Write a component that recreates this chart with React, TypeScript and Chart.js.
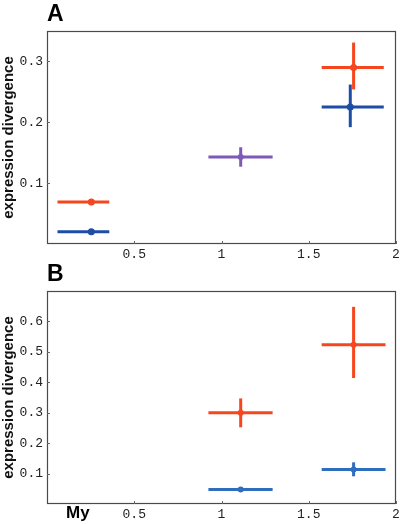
import React, { useEffect, useRef } from "react";
import { Chart, registerables } from "chart.js";

Chart.register(...registerables);

// ---------- data ----------
const xTicks = [0.5, 1, 1.5, 2];
const yTicksA = [0.1, 0.2, 0.3];
const yTicksB = [0.1, 0.2, 0.3, 0.4, 0.5, 0.6];

// Panel A
const aOrangeX = [0.254, 1.757];
const aOrangeY = [0.069, 0.29];
const aOrangeXLow = [0.06, 1.574];
const aOrangeXHigh = [0.357, 1.93];
const aOrangeYLow = [0.069, 0.254];
const aOrangeYHigh = [0.069, 0.331];

const aBlueX = [0.254, 1.738];
const aBlueY = [0.02, 0.225];
const aBlueXLow = [0.06, 1.574];
const aBlueXHigh = [0.357, 1.93];
const aBlueYLow = [0.02, 0.192];
const aBlueYHigh = [0.02, 0.262];

const aPurpleX = [1.11];
const aPurpleY = [0.143];
const aPurpleXLow = [0.925];
const aPurpleXHigh = [1.293];
const aPurpleYLow = [0.127];
const aPurpleYHigh = [0.159];

// Panel B
const bOrangeX = [1.11, 1.757];
const bOrangeY = [0.3, 0.523];
const bOrangeXLow = [0.925, 1.574];
const bOrangeXHigh = [1.293, 1.94];
const bOrangeYLow = [0.252, 0.414];
const bOrangeYHigh = [0.347, 0.648];

const bBlueX = [1.11, 1.757];
const bBlueY = [0.0475, 0.113];
const bBlueXLow = [0.925, 1.574];
const bBlueXHigh = [1.293, 1.94];
const bBlueYLow = [0.042, 0.091];
const bBlueYHigh = [0.053, 0.137];

const ORANGE = "#f5461f";
const BLUE_A = "#1d4da6";
const PURPLE = "#7d5bb4";
const BLUE_B = "#2f6ebf";

type Pt = { x: number; y: number; xl: number; xh: number; yl: number; yh: number };

function pts(x: number[], y: number[], xl: number[], xh: number[], yl: number[], yh: number[]): Pt[] {
  return x.map((v, i) => ({ x: v, y: y[i], xl: xl[i], xh: xh[i], yl: yl[i], yh: yh[i] }));
}

const errorBarPlugin = {
  id: "errorBars",
  beforeDatasetsDraw(chart: any) {
    const ctx = chart.ctx;
    const xs = chart.scales.x;
    const ys = chart.scales.y;
    ctx.save();
    ctx.lineWidth = 3;
    ctx.lineCap = "butt";
    chart.data.datasets.forEach((ds: any) => {
      ctx.strokeStyle = ds.borderColor;
      ds.data.forEach((p: Pt) => {
        const cx = xs.getPixelForValue(p.x);
        const cy = ys.getPixelForValue(p.y);
        ctx.beginPath();
        ctx.moveTo(xs.getPixelForValue(p.xl), cy);
        ctx.lineTo(xs.getPixelForValue(p.xh), cy);
        ctx.stroke();
        if (p.yh !== p.yl) {
          ctx.beginPath();
          ctx.moveTo(cx, ys.getPixelForValue(p.yl));
          ctx.lineTo(cx, ys.getPixelForValue(p.yh));
          ctx.stroke();
        }
      });
    });
    ctx.restore();
  },
};

const framePlugin = {
  id: "frame",
  afterDraw(chart: any, _args: any, opts: any) {
    const ctx = chart.ctx;
    const a = chart.chartArea;
    ctx.save();
    ctx.strokeStyle = "#4a4a4a";
    ctx.lineWidth = 1.2;
    ctx.strokeRect(a.left + 0.5, a.top + 0.5, a.right - a.left - 1, a.bottom - a.top - 1);
    // inward tick marks
    const xs = chart.scales.x;
    const ys = chart.scales.y;
    ctx.lineWidth = 1;
    ctx.strokeStyle = "#666";
    xs.ticks.forEach((t: any) => {
      const px = Math.round(xs.getPixelForValue(t.value)) + 0.5;
      ctx.beginPath();
      ctx.moveTo(px, a.bottom);
      ctx.lineTo(px, a.bottom - 3);
      ctx.stroke();
    });
    ys.ticks.forEach((t: any) => {
      const py = Math.round(ys.getPixelForValue(t.value)) + 0.5;
      ctx.beginPath();
      ctx.moveTo(a.left, py);
      ctx.lineTo(a.left + 3, py);
      ctx.stroke();
    });
    // panel letter
    ctx.fillStyle = "#000";
    ctx.font = "bold 23px 'Liberation Sans', Arial, sans-serif";
    ctx.textBaseline = "alphabetic";
    ctx.textAlign = "left";
    ctx.fillText(opts.letter, a.left, 21);
    if (opts.unit) {
      ctx.font = "bold 17px 'Liberation Sans', Arial, sans-serif";
      ctx.fillText(opts.unit, a.left + 19, a.bottom + 14);
    }
    ctx.restore();
  },
};

const tickFont = { family: "'Liberation Mono', 'Courier New', monospace", size: 13 };

function makeConfig(datasets: any[], yMax: number, yTicks: number[], letter: string, unit: string, xScaleHeight: number) {
  return {
    type: "scatter",
    data: { datasets },
    plugins: [errorBarPlugin, framePlugin],
    options: {
      responsive: false,
      animation: false,
      layout: { padding: { top: 31, right: 4, left: 0, bottom: 0 } },
      plugins: {
        legend: { display: false },
        tooltip: { enabled: false },
        frame: { letter, unit },
      },
      scales: {
        x: {
          type: "linear",
          min: 0,
          max: 2,
          grid: { display: false, drawTicks: false },
          border: { display: false },
          afterBuildTicks: (s: any) => {
            s.ticks = xTicks.map((v) => ({ value: v }));
          },
          afterFit: (s: any) => {
            s.height = xScaleHeight;
            s.paddingRight = 0;
            s.paddingLeft = 0;
          },
          ticks: {
            maxRotation: 0,
            autoSkip: false,
            padding: 3,
            color: "#222",
            font: tickFont,
            callback: (v: any) => String(v),
          },
        },
        y: {
          type: "linear",
          min: 0,
          max: yMax,
          grid: { display: false, drawTicks: false },
          border: { display: false },
          afterBuildTicks: (s: any) => {
            s.ticks = yTicks.map((v) => ({ value: v }));
          },
          afterFit: (s: any) => {
            s.width = 47;
            s.paddingTop = 0;
            s.paddingBottom = 0;
          },
          title: {
            display: true,
            text: "expression divergence",
            color: "#111",
            padding: { top: 0, bottom: 0 },
            font: { family: "'Liberation Sans', Arial, sans-serif", size: 15, weight: "bold" },
          },
          ticks: {
            padding: 4,
            color: "#222",
            font: tickFont,
            callback: (v: any) => String(v),
          },
        },
      },
    },
  };
}

function ds(label: string, color: string, data: Pt[], radius: number) {
  return {
    label,
    data,
    borderColor: color,
    backgroundColor: color,
    pointRadius: radius,
    pointBorderWidth: 0,
    showLine: false,
  };
}

export default function App() {
  const refA = useRef<HTMLCanvasElement>(null);
  const refB = useRef<HTMLCanvasElement>(null);

  useEffect(() => {
    const chartA = new Chart(
      refA.current as HTMLCanvasElement,
      makeConfig(
        [
          ds("orange", ORANGE, pts(aOrangeX, aOrangeY, aOrangeXLow, aOrangeXHigh, aOrangeYLow, aOrangeYHigh), 3.5),
          ds("blue", BLUE_A, pts(aBlueX, aBlueY, aBlueXLow, aBlueXHigh, aBlueYLow, aBlueYHigh), 3.5),
          ds("purple", PURPLE, pts(aPurpleX, aPurpleY, aPurpleXLow, aPurpleXHigh, aPurpleYLow, aPurpleYHigh), 3),
        ],
        0.35,
        yTicksA,
        "A",
        "",
        16
      ) as any
    );
    const chartB = new Chart(
      refB.current as HTMLCanvasElement,
      makeConfig(
        [
          ds("orange", ORANGE, pts(bOrangeX, bOrangeY, bOrangeXLow, bOrangeXHigh, bOrangeYLow, bOrangeYHigh), 3),
          ds("blue", BLUE_B, pts(bBlueX, bBlueY, bBlueXLow, bBlueXHigh, bBlueYLow, bBlueYHigh), 3),
        ],
        0.7,
        yTicksB,
        "B",
        "My",
        20
      ) as any
    );
    return () => {
      chartA.destroy();
      chartB.destroy();
    };
  }, []);

  return (
    <div style={{ position: "absolute", left: 0, top: 0, width: 400, height: 524, background: "#fff" }}>
      <canvas ref={refA} width={400} height={260} style={{ position: "absolute", left: 0, top: 0 }} />
      <canvas ref={refB} width={400} height={264} style={{ position: "absolute", left: 0, top: 260 }} />
    </div>
  );
}
